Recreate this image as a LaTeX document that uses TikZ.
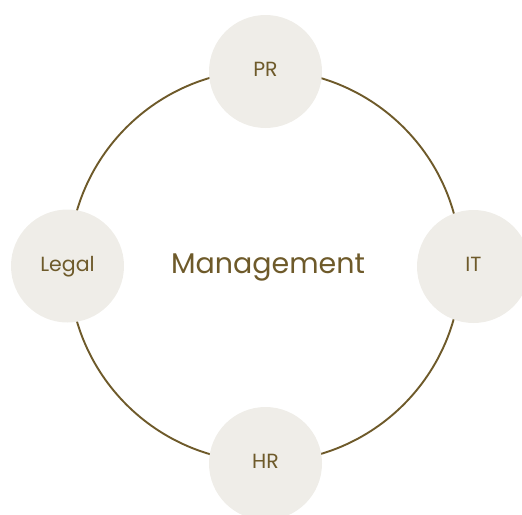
\documentclass[tikz,border=0pt]{standalone}
\usepackage{fontspec}
\setmainfont{Poppins}
\definecolor{ink}{HTML}{6E5A2A}
\definecolor{disc}{HTML}{EFEDE8}
\begin{document}
\begin{tikzpicture}[x=1pt,y=-1pt,
  unit/.style={circle,fill=disc,minimum size=113pt,inner sep=0pt,text=ink,
    text height=14.5pt,text depth=4pt,font=\fontsize{20.5}{24}\selectfont},
  ring/.style={draw=ink,line width=1.9pt}]
  \clip (0,0) rectangle (522,514);
  \useasboundingbox (0,0) rectangle (522,514);
  % central ring
  \coordinate (c) at (265,266);
  \draw[ring] (c) circle[radius=196];
  % departments sitting on the ring
  \node[unit] (pr) at (265.5,71.5) {PR};
  \node[unit] (legal) at (67.5,266) {Legal};
  \node[unit] (it) at (473.5,266.5) {IT};
  \node[unit] (hr) at (265.5,463.5) {HR};
  \node[text=ink,anchor=base,inner sep=0pt,font=\fontsize{28.5}{34}\selectfont] (mgmt) at (268,273.5) {Management};
\end{tikzpicture}
\end{document}
